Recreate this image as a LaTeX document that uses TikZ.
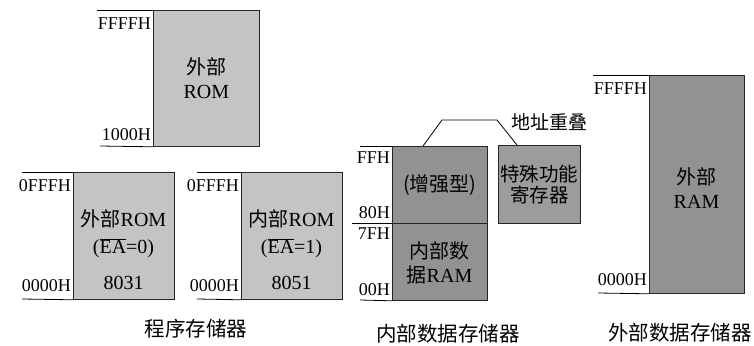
\documentclass[tikz,border=0pt]{standalone}
\usepackage{fontspec}
\setmainfont{Liberation Serif}
\newfontfamily\cjk{Noto Sans CJK SC}
\definecolor{romgray}{HTML}{C4C4C4}
\definecolor{ramgray}{HTML}{929292}
\definecolor{sfrgray}{HTML}{9C9C9C}
\begin{document}
\begin{tikzpicture}[x=1pt,y=-1pt,
  box/.style={draw=black!85, line width=0.8pt, inner sep=0pt, anchor=north west},
  rombox/.style={box, fill=romgray},
  rambox/.style={box, fill=ramgray},
  tick/.style={draw=black, line width=0.8pt},
  addr/.style={anchor=east, inner sep=0pt, font=\fontsize{18}{18}\selectfont},
  txt/.style={inner sep=0pt, align=center, font=\fontsize{20}{24}\selectfont},
  title/.style={inner sep=0pt, font=\cjk\fontsize{20.5}{21}\selectfont}]
\useasboundingbox[fill=white] (0,0) rectangle (754,345);

% ---- top external ROM ----
\node[rombox, minimum width=106pt, minimum height=136pt] (rom) at (153,10) {};
\node[txt] (romt) at (rom.center) {{\cjk 外部}\\ROM};
\coordinate (romtl) at (97,10);
\coordinate (rombl) at (100,146);
\draw[tick] (romtl) -- (rom.north west);
\draw[tick] (rombl) -- (rom.south west);
\node[addr] (romhi) at (151,24) {FFFFH};
\node[addr] (romlo) at (151,135) {1000H};

% ---- 8031 ----
\node[rombox, minimum width=101pt, minimum height=127pt] (a) at (73,172) {};
\coordinate (atl) at (22,172);
\coordinate (abl) at (22,299);
\draw[tick] (atl) -- (a.north west);
\draw[tick] (abl) -- (a.south west);
\node[txt] (at1) at (123.5,219) {{\cjk 外部}ROM};
\node[txt] (at2) at (123.5,248) {($\overline{\mbox{EA}}$=0)};
\node[txt] (at3) at (123.5,283) {8031};
\node[addr] (ahi) at (71,186) {0FFFH};
\node[addr] (alo) at (71,286) {0000H};

% ---- 8051 ----
\node[rombox, minimum width=101pt, minimum height=127pt] (b) at (241,172) {};
\coordinate (btl) at (197,172);
\coordinate (bbl) at (197,299);
\draw[tick] (btl) -- (b.north west);
\draw[tick] (bbl) -- (b.south west);
\node[txt] (bt1) at (291.5,219) {{\cjk 内部}ROM};
\node[txt] (bt2) at (291.5,248) {($\overline{\mbox{EA}}$=1)};
\node[txt] (bt3) at (291.5,283) {8051};
\node[addr] (bhi) at (239,186) {0FFFH};
\node[addr] (blo) at (239,286) {0000H};

\node[title] (t1) at (196,329) {程序存储器};

% ---- internal data RAM ----
\node[rambox, minimum width=95pt, minimum height=77pt] (up) at (392,146) {};
\node[rambox, minimum width=95pt, minimum height=77pt] (lo) at (392,223) {};
\node[txt, font=\cjk\fontsize{20}{24}\selectfont] (upt) at (up.center) {(增强型)};
\node[txt] (lot) at (439.5,263) {{\cjk 内部数}\\{\cjk 据}RAM};
\coordinate (uptl) at (360,146);
\coordinate (midl) at (352,223);
\coordinate (lobl) at (360,300);
\draw[tick] (uptl) -- (up.north west);
\draw[tick] (midl) -- (lo.north west);
\draw[tick] (lobl) -- (lo.south west);
\node[addr] (ffh) at (390,158) {FFH};
\node[addr] (h80) at (390,213) {80H};
\node[addr] (h7f) at (390,234) {7FH};
\node[addr] (h00) at (390,290) {00H};

% ---- SFR ----
\node[box, fill=sfrgray, minimum width=82pt, minimum height=78pt] (sfr) at (498,145) {};
\node[txt, font=\cjk\fontsize{19.5}{21}\selectfont] (sfrt) at (sfr.center) {特殊功能\\寄存器};

% ---- overlap bracket ----
\coordinate (br1) at (423,146);
\coordinate (br2) at (442,120);
\coordinate (br3) at (497,120);
\coordinate (br4) at (517,145);
\draw[tick] (br1) -- (br2) -- (br3) -- (br4);
\node[anchor=west, inner sep=0pt, font=\cjk\fontsize{19}{20}\selectfont] (ovl) at (511,122) {地址重叠};

\node[title] (t2) at (448,334) {内部数据存储器};

% ---- external RAM ----
\node[rambox, minimum width=95pt, minimum height=218pt] (xram) at (649,75) {};
\node[txt] (xramt) at (696.5,188) {{\cjk 外部}\\RAM};
\coordinate (xtl) at (593,75);
\coordinate (xbl) at (598,293);
\draw[tick] (xtl) -- (xram.north west);
\draw[tick] (xbl) -- (xram.south west);
\node[addr] (xhi) at (647,89) {FFFFH};
\node[addr] (xlo) at (647,280) {0000H};

\node[title] (t3) at (680,333) {外部数据存储器};
\end{tikzpicture}
\end{document}
